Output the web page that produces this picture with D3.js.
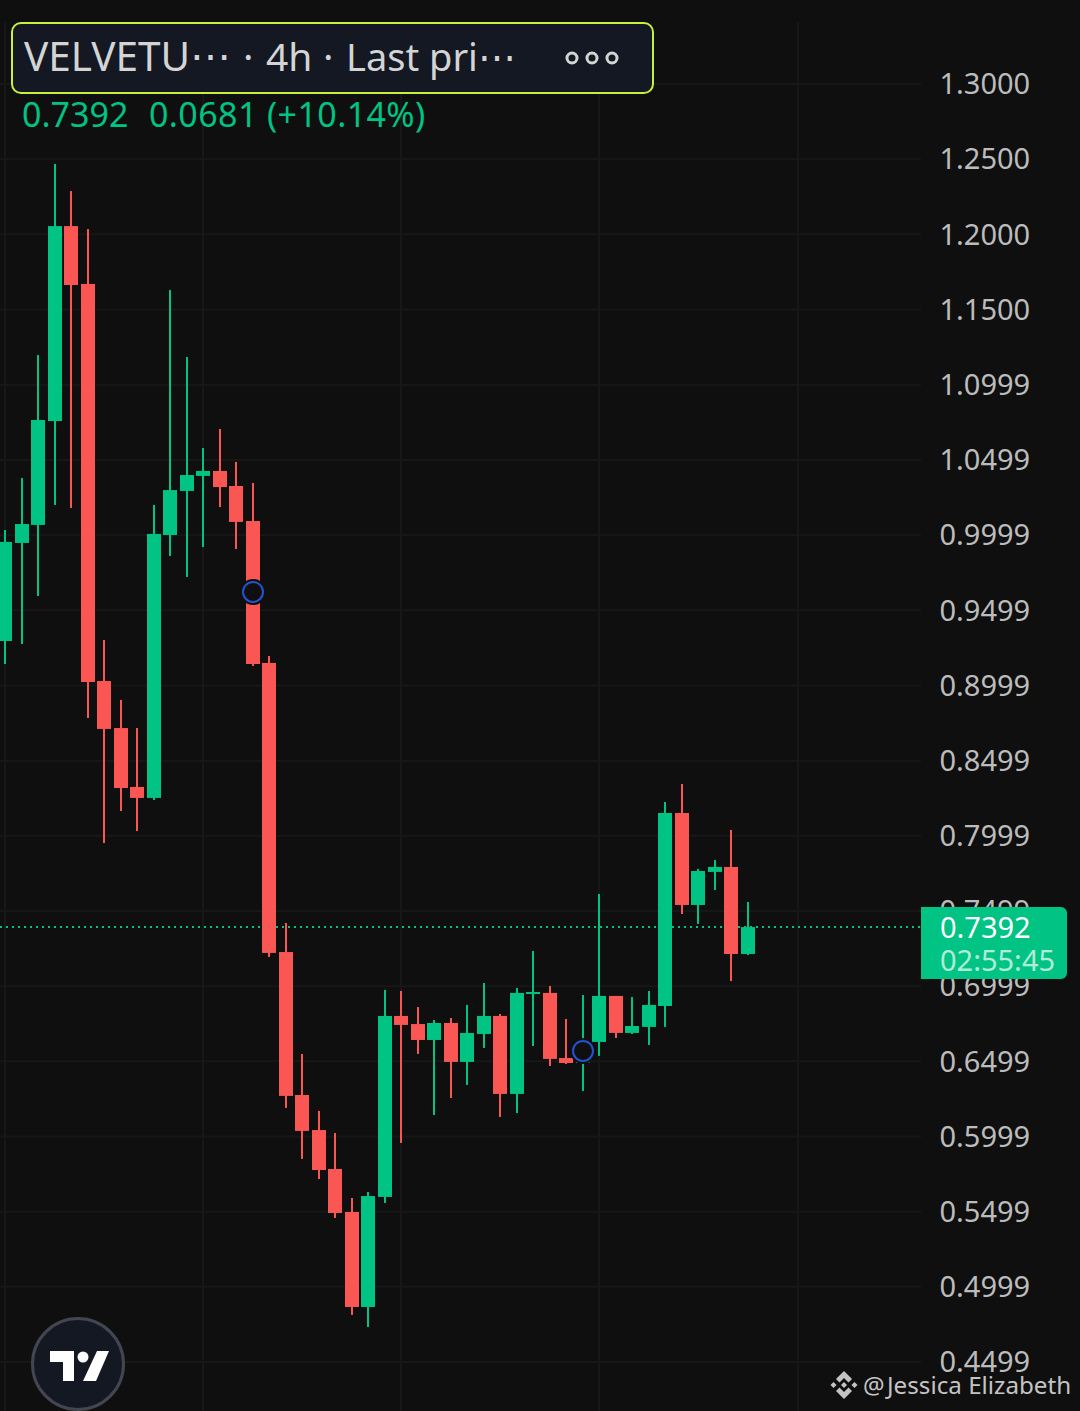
<!DOCTYPE html>
<html>
<head>
<meta charset="utf-8">
<script src="https://d3js.org/d3.v7.min.js"></script>
<style>
  html, body { margin: 0; padding: 0; background: #0f0f0f; }
  svg { display: block; }
  text { font-family: "Noto Sans", sans-serif; }
</style>
</head>
<body>
<svg id="chart" width="1080" height="1411"></svg>
<script>
// 4h candles
const opens = [0.9295,0.9947,1.0067,1.0758,1.2055,1.1670,0.9029,0.8716,0.8324,0.8251,1.0000,1.0293,1.0393,1.0426,1.0326,1.0093,0.9149,0.7226,0.6275,0.6042,0.5783,0.5497,0.4865,0.5597,0.6801,0.6747,0.6641,0.6754,0.6495,0.6681,0.6801,0.6282,0.6947,0.6954,0.6521,0.6488,0.6628,0.6934,0.6688,0.6728,0.6867,0.8151,0.7539,0.7759,0.7792,0.7213];
const closes = [0.9954,1.0073,1.0765,1.2055,1.1663,0.9022,0.8710,0.8317,0.8251,1.0007,1.0299,1.0399,1.0426,1.0319,1.0087,0.9142,0.7220,0.6269,0.6036,0.5776,0.5490,0.4865,0.5603,0.6801,0.6741,0.6641,0.6754,0.6495,0.6688,0.6801,0.6282,0.6954,0.6960,0.6515,0.6488,0.6628,0.6934,0.6688,0.6734,0.6874,0.8151,0.7539,0.7765,0.7792,0.7213,0.7392];
const highs = [1.0033,1.0379,1.1197,1.2468,1.2288,1.2035,0.9302,0.8903,0.8716,1.0200,1.1630,1.1184,1.0579,1.0705,1.0486,1.0346,0.9195,0.7419,0.6548,0.6169,0.6022,0.5590,0.5630,0.6974,0.6967,0.6860,0.6774,0.6787,0.6874,0.7020,0.6814,0.6987,0.7233,0.7000,0.6781,0.6940,0.7612,0.6934,0.6927,0.6967,0.8224,0.8344,0.7779,0.7838,0.8038,0.7559];
const lows = [0.9142,0.9275,0.9594,1.0200,1.0180,0.8783,0.7951,0.8164,0.8031,0.8237,0.9860,0.9721,0.9920,1.0186,0.9907,0.9129,0.7193,0.6189,0.5850,0.5716,0.5457,0.4812,0.4732,0.5557,0.5956,0.6548,0.6142,0.6255,0.6342,0.6588,0.6129,0.6155,0.6601,0.6468,0.6481,0.6302,0.6535,0.6654,0.6681,0.6608,0.6728,0.7479,0.7413,0.7639,0.7033,0.7206];

const tickLabels = ["1.3000","1.2500","1.2000","1.1500","1.0999","1.0499","0.9999","0.9499","0.8999","0.8499","0.7999","0.7499","0.6999","0.6499","0.5999","0.5499","0.4999","0.4499"];
const gridCandles = [0, 12, 24, 36, 48]; // vertical grid every 12 candles
const markerCandles = [15, 35];
const markerPrices = [0.9621, 0.6568];
const lastPrice = 0.7392;

const green = "#00c384", red = "#f95654", grid = "#171717", labelColor = "#bcbcbc";

const svg = d3.select("#chart");
svg.append("rect").attr("width", 1080).attr("height", 1411).attr("fill", "#0f0f0f");

const y = d3.scaleLinear().domain([1.3, 0.4499]).range([84, 1362]);
const x = d3.scaleLinear().domain([0, 45]).range([5, 748]);
const xr = i => Math.round(x(i));

// grid
svg.append("g").selectAll("line").data(tickLabels).enter().append("line")
  .attr("x1", 0).attr("x2", 921)
  .attr("y1", d => y(+d)).attr("y2", d => y(+d))
  .attr("stroke", grid).attr("stroke-width", 2);
svg.append("g").selectAll("line").data(gridCandles).enter().append("line")
  .attr("x1", d => xr(d)).attr("x2", d => xr(d))
  .attr("y1", 22).attr("y2", 1411)
  .attr("stroke", grid).attr("stroke-width", 2);

// last price line sits behind the candles
svg.append("line")
  .attr("x1", 0).attr("x2", 920)
  .attr("y1", y(lastPrice)).attr("y2", y(lastPrice))
  .attr("stroke", green).attr("stroke-width", 2).attr("stroke-dasharray", "2 4");

// candles
const candles = svg.append("g").selectAll("g").data(d3.range(opens.length)).enter().append("g")
  .attr("fill", i => closes[i] >= opens[i] ? green : red);
candles.append("rect")
  .attr("x", i => xr(i) - 1).attr("width", 2)
  .attr("y", i => y(highs[i]))
  .attr("height", i => y(lows[i]) - y(highs[i]));
candles.append("rect")
  .attr("x", i => xr(i) - 7).attr("width", 14)
  .attr("y", i => y(Math.max(opens[i], closes[i])))
  .attr("height", i => Math.max(2, y(Math.min(opens[i], closes[i])) - y(Math.max(opens[i], closes[i]))));

// blue circle markers, they knock out the candle behind them
markerCandles.forEach((c, k) => {
  svg.append("circle").attr("cx", xr(c)).attr("cy", y(markerPrices[k])).attr("r", 13).attr("fill", "#0f0f0f");
  svg.append("circle").attr("cx", xr(c)).attr("cy", y(markerPrices[k])).attr("r", 10)
    .attr("fill", "none").attr("stroke", "#2352d2").attr("stroke-width", 2);
});

// price axis
const axis = svg.append("g")
  .attr("transform", "translate(939.5,0.5)")
  .call(d3.axisRight(y).tickValues(tickLabels.map(Number)).tickSize(0).tickPadding(0)
    .tickFormat((d, i) => tickLabels[i]));
axis.select("path").remove();
axis.selectAll("text")
  .attr("fill", labelColor).attr("font-size", 29)
  .attr("font-family", '"Noto Sans", sans-serif');

// last price tag
svg.append("path")
  .attr("d", "M921,907H1061a6,6 0 0 1 6,6V973a6,6 0 0 1 -6,6H921Z")
  .attr("fill", green);
svg.append("text").attr("x", 940).attr("y", 938).attr("font-size", 29).attr("fill", "#ffffff").text(d3.format(".4f")(lastPrice));
svg.append("text").attr("x", 940).attr("y", 970.5).attr("font-size", 29).attr("fill", "#ffffff").attr("fill-opacity", 0.7).text("02:55:45");

// title box, the pieces are placed apart because the app font is narrower in the lower case
svg.append("rect")
  .attr("x", 12).attr("y", 23).attr("width", 641).attr("height", 70).attr("rx", 9)
  .attr("fill", "#131823").attr("stroke", "#c8f03c").attr("stroke-width", 2);
const titleParts = ["VELVETU⋯", "·", "4h", "·", "Last pri⋯"];
const titleX = [24, 243, 266, 323, 346];
const titleSize = [40.5, 39, 39, 39, 38];
svg.append("g").selectAll("text").data(titleParts).enter().append("text")
  .attr("x", (d, i) => titleX[i]).attr("y", 71)
  .attr("font-size", (d, i) => titleSize[i])
  .attr("fill", "#d4d4d4").text(d => d);
svg.append("g").selectAll("circle").data([572, 592, 612]).enter().append("circle")
  .attr("cx", d => d).attr("cy", 58).attr("r", 5)
  .attr("fill", "none").attr("stroke", "#d4d4d4").attr("stroke-width", 3);

svg.append("text").attr("x", 22).attr("y", 127).attr("font-size", 34).attr("fill", green).text("0.7392");
svg.append("text").attr("x", 149).attr("y", 127).attr("font-size", 34).attr("letter-spacing", 0.4).attr("fill", green).text("0.0681 (+10.14%)");

// TradingView badge
svg.append("circle").attr("cx", 78).attr("cy", 1364).attr("r", 45.5)
  .attr("fill", "#131823").attr("stroke", "#434651").attr("stroke-width", 3);
svg.append("path").attr("d", "M50,1351H74V1381H63V1362H50Z").attr("fill", "#fff");
svg.append("circle").attr("cx", 83).attr("cy", 1357).attr("r", 5.5).attr("fill", "#fff");
svg.append("path").attr("d", "M97,1351H109L96,1381H83Z").attr("fill", "#fff");

// watermark, Binance square mark
const wm = svg.append("g").attr("transform", "translate(844,1385)").attr("fill", "#c4c4c4");
wm.append("path").attr("d", "M0,-14L8,-6L4.5,-2.5L0,-7L-4.5,-2.5L-8,-6Z");
wm.append("path").attr("d", "M0,14L8,6L4.5,2.5L0,7L-4.5,2.5L-8,6Z");
wm.append("path").attr("d", "M0,-3L3,0L0,3L-3,0Z");
wm.append("path").attr("d", "M-10.5,-3L-13.5,0L-10.5,3L-7.5,0Z");
wm.append("path").attr("d", "M10.5,-3L13.5,0L10.5,3L7.5,0Z");
svg.append("text").attr("x", 863).attr("y", 1394).attr("font-size", 24).attr("fill", "#c4c4c4").text("@");
svg.append("text").attr("x", 887).attr("y", 1394).attr("font-size", 24.2).attr("fill", "#c4c4c4").text("Jessica Elizabeth");
</script>
</body>
</html>
